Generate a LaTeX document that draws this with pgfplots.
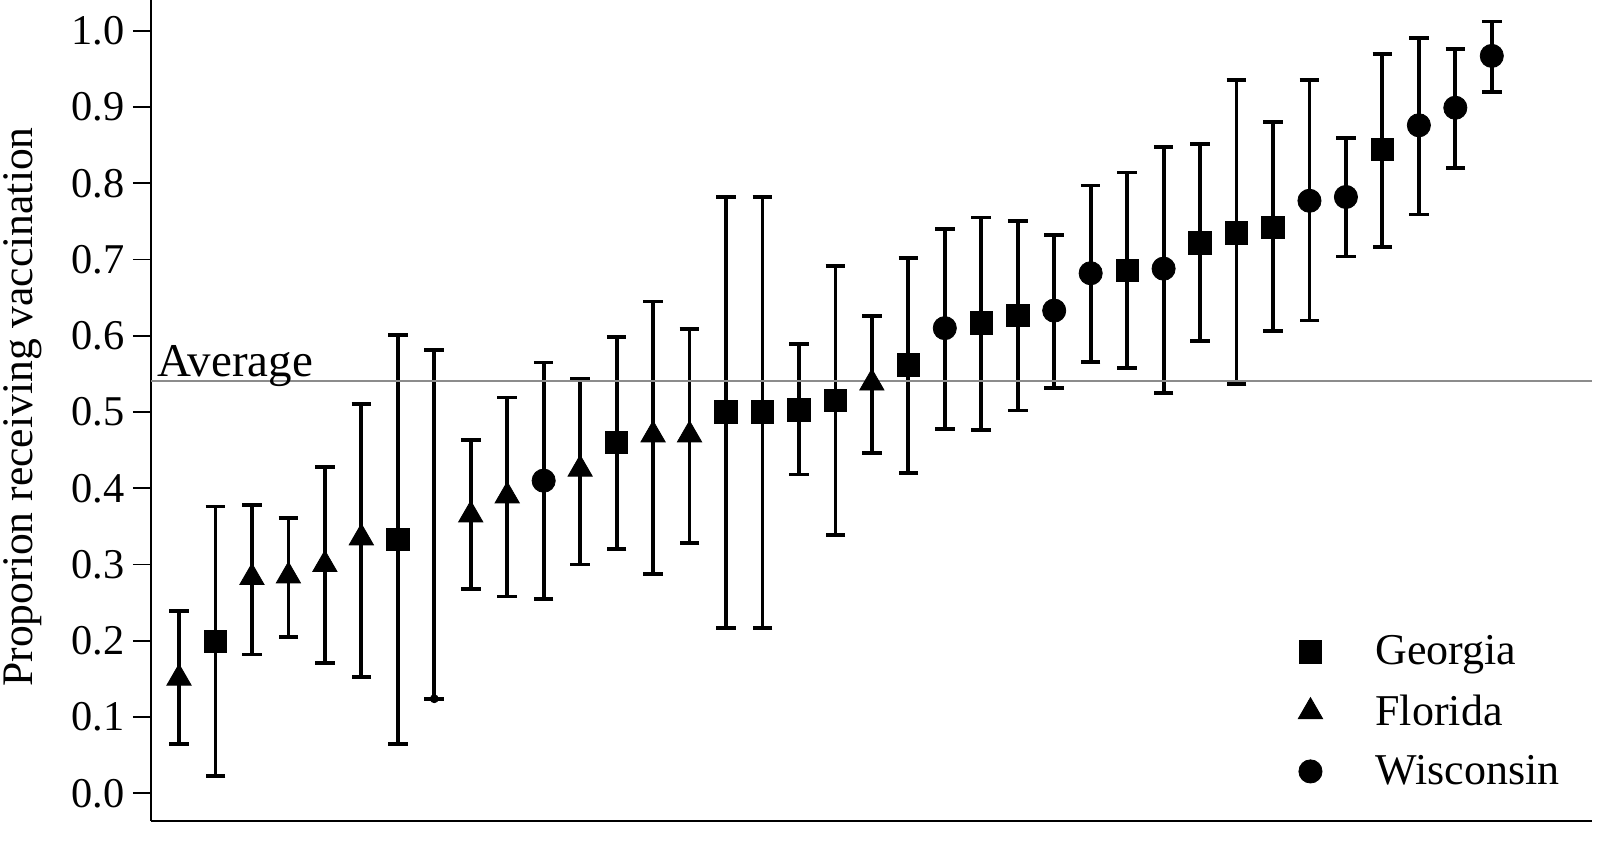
\documentclass[border=0pt]{standalone}
\usepackage{pgfplots}
\pgfplotsset{compat=1.18}
\usepackage{pgfplotstable}
\usepackage{fontspec}
\setmainfont{Liberation Serif}

% x  y  lo  hi
\pgfplotstableread{
x y lo hi
2 0.199 0.023 0.376
7 0.333 0.065 0.601
13 0.460 0.320 0.598
16 0.500 0.217 0.782
17 0.500 0.217 0.782
18 0.503 0.418 0.589
19 0.515 0.339 0.691
21 0.562 0.420 0.702
23 0.617 0.476 0.755
24 0.627 0.502 0.750
27 0.686 0.558 0.814
29 0.722 0.593 0.851
30 0.735 0.537 0.935
31 0.742 0.606 0.880
34 0.844 0.716 0.969
}\georgia
\pgfplotstableread{
x y lo hi
1 0.151 0.065 0.239
3 0.283 0.182 0.378
4 0.285 0.205 0.361
5 0.300 0.171 0.428
6 0.335 0.153 0.511
9 0.365 0.268 0.463
10 0.390 0.258 0.519
12 0.425 0.300 0.543
14 0.470 0.288 0.645
15 0.470 0.328 0.609
20 0.538 0.446 0.626
}\florida
\pgfplotstableread{
x y lo hi
11 0.410 0.255 0.565
22 0.610 0.478 0.740
25 0.633 0.532 0.732
26 0.682 0.566 0.797
28 0.688 0.525 0.848
32 0.777 0.620 0.935
33 0.782 0.704 0.859
35 0.876 0.759 0.990
36 0.899 0.820 0.976
37 0.967 0.920 1.012
}\wisconsin
\pgfplotstableread{
x y lo hi
8 0.124 0.124 0.581
}\nomark

\pgfplotsset{
  legmark/.style={legend image code/.code={%
      \draw[##1] plot coordinates {(0pt,0pt)};
      \path[draw=none, fill=none] (-6pt,-8.8pt) rectangle (32.5pt,8.8pt);}},
  ebars/.style={error bars/.cd, y dir=both, y explicit,
      error bar style={line width=1.9pt, black},
      error mark options={rotate=90, black, line width=1.9pt, mark size=4.9pt}},
}

\begin{document}
\begin{tikzpicture}
\begin{axis}[
  at={(75.5pt,13.5pt)}, anchor=south west,
  scale only axis, width=720.35pt, height=410.5pt,
  xmin=0.232, xmax=39.74, ymin=-0.0363, ymax=1.0403,
  axis lines*=left,
  axis line style={line width=0.9pt, black},
  xtick=\empty,
  ytick={0,0.1,...,1.0},
  tick align=outside,
  major tick length=9pt,
  tick style={line width=0.9pt, black},
  yticklabel style={/pgf/number format/fixed, /pgf/number format/fixed zerofill, /pgf/number format/precision=1, /pgf/number format/assume math mode=true,
     font=\rmfamily\fontsize{21.2}{25}\selectfont, inner sep=0pt, xshift=-4pt},
  ylabel={Proporion receiving vaccination},
  ylabel style={font=\rmfamily\fontsize{21.8}{26}\selectfont, at={(axis description cs:-0.0887,0.5043)}, anchor=center},
  clip=false,
  legend cell align=left,
  legend style={draw=none, fill=none, at={(rel axis cs:0.7961,0.228)}, anchor=north west,
     inner sep=0pt, row sep=12.3pt, column sep=0pt,
     font=\rmfamily\fontsize{22}{26}\selectfont, nodes={inner sep=0pt}},
]
\addplot[only marks, mark=square*, mark size=5.6pt, mark options={black, fill=black}, legmark, ebars]
  table[x=x, y=y, y error plus expr=\thisrow{hi}-\thisrow{y}, y error minus expr=\thisrow{y}-\thisrow{lo}] {\georgia};
\addlegendentry{Georgia}
\addplot[only marks, mark=triangle*, mark size=7pt, mark options={black, fill=black}, legmark, ebars]
  table[x=x, y=y, y error plus expr=\thisrow{hi}-\thisrow{y}, y error minus expr=\thisrow{y}-\thisrow{lo}] {\florida};
\addlegendentry{Florida}
\addplot[only marks, mark=*, mark size=5.8pt, mark options={black, fill=black}, legmark, ebars]
  table[x=x, y=y, y error plus expr=\thisrow{hi}-\thisrow{y}, y error minus expr=\thisrow{y}-\thisrow{lo}] {\wisconsin};
\addlegendentry{Wisconsin}
\addplot[only marks, mark=none, forget plot, ebars]
  table[x=x, y=y, y error plus expr=\thisrow{hi}-\thisrow{y}, y error minus expr=\thisrow{y}-\thisrow{lo}] {\nomark};
\addplot[forget plot, color={rgb,255:red,140;green,140;blue,140}, line width=0.75pt] coordinates {(0.232,0.5406) (39.74,0.5406)};
\node[anchor=base west, inner sep=0pt, font=\rmfamily\fontsize{23.5}{28}\selectfont, xshift=3pt, yshift=2.2pt] at (axis cs:0.232,0.5406) {Average};
\end{axis}
\pgfresetboundingbox
\useasboundingbox (0,0) rectangle (806pt,424pt);
\end{tikzpicture}
\end{document}
